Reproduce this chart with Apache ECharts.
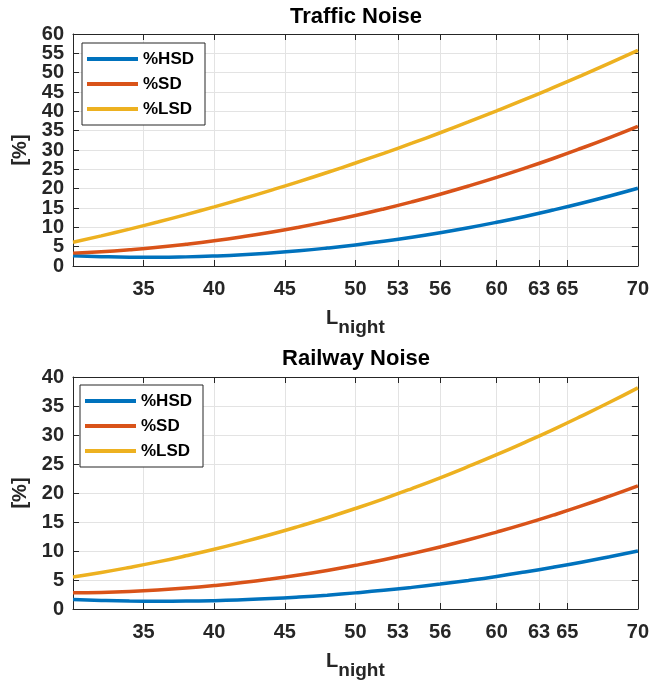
<!DOCTYPE html>
<html>
<head>
<meta charset="utf-8">
<script src="https://cdn.jsdelivr.net/npm/echarts@6/dist/echarts.min.js"></script>
<style>
html,body{margin:0;padding:0;background:#fff;}
#chart{width:652px;height:684px;}
</style>
</head>
<body>
<div id="chart"></div>
<script>
// ---- data ----
const L_NIGHT = [30,32,34,36,38,40,42,44,46,48,50,52,54,56,58,60,62,64,66,68,70];
const X_TICKS = [35,40,45,50,53,56,60,63,65,70];
const SERIES_NAMES = ['%HSD','%SD','%LSD'];

const TRAFFIC_HSD = [2.67,2.42,2.28,2.26,2.36,2.58,2.91,3.37,3.94,4.64,5.45,6.38,7.43,8.60,9.89,11.30,12.82,14.47,16.23,18.11,20.11];
const TRAFFIC_SD  = [3.33,3.70,4.21,4.84,5.62,6.52,7.56,8.73,10.04,11.48,13.05,14.76,16.60,18.57,20.68,22.92,25.30,27.80,30.45,33.22,36.13];
const TRAFFIC_LSD = [6.13,7.79,9.54,11.37,13.29,15.30,17.39,19.57,21.83,24.19,26.63,29.15,31.76,34.46,37.25,40.12,43.07,46.12,49.25,52.47,55.77];

const RAIL_HSD = [1.63,1.47,1.37,1.34,1.36,1.44,1.59,1.79,2.06,2.39,2.78,3.22,3.73,4.30,4.93,5.62,6.38,7.19,8.06,9.00,9.99];
const RAIL_SD  = [2.79,2.86,3.02,3.27,3.61,4.04,4.55,5.16,5.86,6.65,7.53,8.49,9.55,10.70,11.93,13.26,14.67,16.18,17.77,19.46,21.23];
const RAIL_LSD = [5.53,6.30,7.17,8.12,9.17,10.30,11.53,12.84,14.25,15.74,17.33,19.00,20.77,22.62,24.57,26.60,28.73,30.94,33.25,35.64,38.13];

const TOP_Y_TICKS = [0,5,10,15,20,25,30,35,40,45,50,55,60];
const BOTTOM_Y_TICKS = [0,5,10,15,20,25,30,35,40];
const Y_STEP = 5;

// ---- styling ----
const COLORS = ['#0072BD','#D95319','#EDB120'];
const FONT = '"Liberation Sans", Arial, sans-serif';
const AXIS_COLOR = '#262626';
const GRID_COLOR = '#e3e3e3';

function pairs(arr){ return L_NIGHT.map((x,i)=>[x, arr[i]]); }

function xAxes(gridIndex){
  return [
    {
      type:'value', gridIndex, min:30, max:70, interval:5, position:'bottom',
      axisLine:{show:true, onZero:false, lineStyle:{color:AXIS_COLOR, width:1}},
      axisTick:{show:true, inside:true, length:6, customValues:X_TICKS, lineStyle:{color:AXIS_COLOR}},
      axisLabel:{show:true, customValues:X_TICKS, margin:13, fontSize:20, fontWeight:'bold', fontFamily:FONT, color:AXIS_COLOR, hideOverlap:false},
      splitLine:{show:true, lineStyle:{color:GRID_COLOR, width:1}},
      name:'{L|L}{n|night}', nameLocation:'middle', nameGap:42,
      nameTextStyle:{
        rich:{
          L:{fontSize:20, fontWeight:'bold', fontFamily:FONT, color:AXIS_COLOR, lineHeight:22, verticalAlign:'top'},
          n:{fontSize:19, fontWeight:'bold', fontFamily:FONT, color:AXIS_COLOR, lineHeight:29, verticalAlign:'bottom'}
        }
      }
    },
    {
      type:'value', gridIndex, min:30, max:70, interval:5, position:'top',
      axisLine:{show:true, onZero:false, lineStyle:{color:AXIS_COLOR, width:1}},
      axisTick:{show:true, inside:true, length:6, customValues:X_TICKS, lineStyle:{color:AXIS_COLOR}},
      axisLabel:{show:false},
      splitLine:{show:false}
    }
  ];
}

const yLabelStyle = {margin:9, fontSize:20, fontWeight:'bold', fontFamily:FONT, color:AXIS_COLOR,
                     showMinLabel:true, showMaxLabel:true, hideOverlap:false};

function yAxes(gridIndex, ticks){
  const maxV = ticks[ticks.length-1];
  const evenTicks = ticks.filter((t,i)=>i%2===0);
  const oddTicks = ticks.filter((t,i)=>i%2===1);
  return [
    {
      type:'value', gridIndex, min:0, max:maxV, interval:Y_STEP, position:'left',
      axisLine:{show:true, onZero:false, lineStyle:{color:AXIS_COLOR, width:1}},
      axisTick:{show:true, inside:true, length:6, lineStyle:{color:AXIS_COLOR}},
      axisLabel:Object.assign({customValues:evenTicks}, yLabelStyle),
      splitLine:{show:true, lineStyle:{color:GRID_COLOR, width:1}},
      name:'[%]', nameLocation:'middle', nameGap:37, nameRotate:90,
      nameTextStyle:{fontSize:20, fontWeight:'bold', fontFamily:FONT, color:AXIS_COLOR}
    },
    {
      type:'value', gridIndex, min:0, max:maxV, interval:Y_STEP, position:'right',
      axisLine:{show:true, onZero:false, lineStyle:{color:AXIS_COLOR, width:1}},
      axisTick:{show:true, inside:true, length:6, lineStyle:{color:AXIS_COLOR}},
      axisLabel:{show:false},
      splitLine:{show:false}
    },
    {
      type:'value', gridIndex, min:0, max:maxV, interval:Y_STEP, position:'left', offset:0,
      axisLine:{show:false}, axisTick:{show:false}, splitLine:{show:false},
      axisLabel:Object.assign({customValues:oddTicks}, yLabelStyle)
    }
  ];
}

function lineSeries(name, data, color, xIdx, yIdx){
  return {
    type:'line', name, data:pairs(data), xAxisIndex:xIdx, yAxisIndex:yIdx,
    showSymbol:false, symbol:'none', smooth:true, animation:false,
    lineStyle:{color, width:3.5}, itemStyle:{color}
  };
}

function legendAt(left, top){
  return {
    orient:'vertical', left, top, data:SERIES_NAMES,
    icon:'rect', itemWidth:51, itemHeight:4, itemGap:5,
    padding:[6,11,6,5],
    borderColor:AXIS_COLOR, borderWidth:1, backgroundColor:'#fff',
    textStyle:{fontSize:17, fontWeight:'bold', fontFamily:FONT, color:'#000', lineHeight:20},
    selectedMode:false
  };
}

const chart = echarts.init(document.getElementById('chart'), null, {renderer:'canvas'});
chart.setOption({
  backgroundColor:'#fff',
  animation:false,
  title:[
    {text:'Traffic Noise', left:356, top:6, textAlign:'center', padding:0,
     textStyle:{fontSize:22, fontWeight:'bold', fontFamily:FONT, color:'#000'}},
    {text:'Railway Noise', left:356, top:348, textAlign:'center', padding:0,
     textStyle:{fontSize:22, fontWeight:'bold', fontFamily:FONT, color:'#000'}}
  ],
  legend:[legendAt(82,43), legendAt(80,385)],
  grid:[
    {left:73, top:34, width:567, height:232, containLabel:false},
    {left:73, top:377, width:567, height:232, containLabel:false}
  ],
  xAxis:[...xAxes(0), ...xAxes(1)],
  yAxis:[...yAxes(0, TOP_Y_TICKS), ...yAxes(1, BOTTOM_Y_TICKS)],
  series:[
    lineSeries('%HSD', TRAFFIC_HSD, COLORS[0], 0, 0),
    lineSeries('%SD',  TRAFFIC_SD,  COLORS[1], 0, 0),
    lineSeries('%LSD', TRAFFIC_LSD, COLORS[2], 0, 0),
    lineSeries('%HSD', RAIL_HSD, COLORS[0], 2, 3),
    lineSeries('%SD',  RAIL_SD,  COLORS[1], 2, 3),
    lineSeries('%LSD', RAIL_LSD, COLORS[2], 2, 3)
  ]
});
</script>
</body>
</html>
